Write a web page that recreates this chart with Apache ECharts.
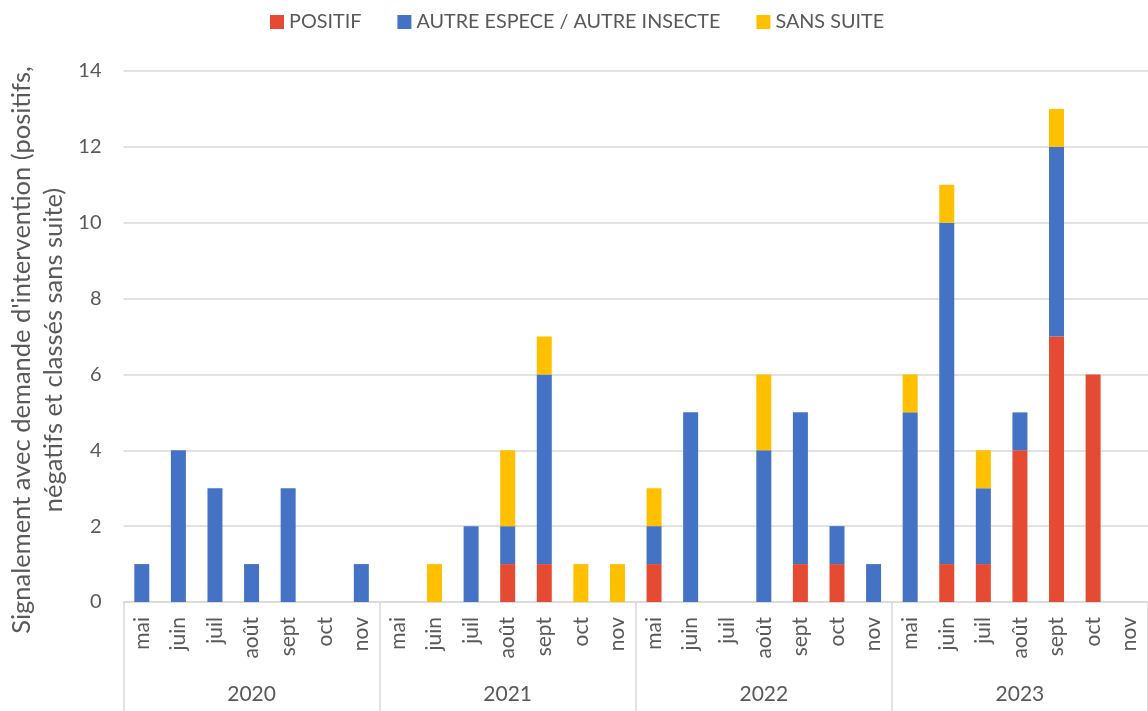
<!DOCTYPE html>
<html>
<head>
<meta charset="utf-8">
<script src="https://cdn.jsdelivr.net/npm/echarts@6/dist/echarts.min.js"></script>
<style>
* { margin: 0; padding: 0; }
html, body { width: 1148px; height: 711px; background: #fff; overflow: hidden; }
#chart { width: 1148px; height: 711px; }
</style>
</head>
<body>
<div id="chart"></div>
<script>
// catégories
const years = ["2020", "2021", "2022", "2023"];
const months = ["mai", "juin", "juil", "août", "sept", "oct", "nov"];

// valeurs (mai..nov pour chaque année)
const positif = [
  0, 0, 0, 0, 0, 0, 0,
  0, 0, 0, 1, 1, 0, 0,
  1, 0, 0, 0, 1, 1, 0,
  0, 1, 1, 4, 7, 6, 0
];
const autreEspece = [
  1, 4, 3, 1, 3, 0, 1,
  0, 0, 2, 1, 5, 0, 0,
  1, 5, 0, 4, 4, 1, 1,
  5, 9, 2, 1, 5, 0, 0
];
const sansSuite = [
  0, 0, 0, 0, 0, 0, 0,
  0, 1, 0, 2, 1, 1, 1,
  1, 0, 0, 2, 0, 0, 0,
  1, 1, 1, 0, 1, 0, 0
];

const yTicks = [0, 14, 2]; // min, max, interval

const monthCats = [];
years.forEach(y => months.forEach(m => monthCats.push(m)));

const textColor = "#595959";
const lineColor = "#D9D9D9";
const font = "Lato";

function barSeries(name, data, color) {
  return {
    name: name,
    type: "bar",
    stack: "total",
    barWidth: 15,
    data: data.map(v => (v === 0 ? null : v)),
    itemStyle: { color: color },
    emphasis: { disabled: true }
  };
}

const chart = echarts.init(document.getElementById("chart"));
chart.setOption({
  animation: false,
  textStyle: { fontFamily: font },
  legend: {
    top: 7,
    left: 265,
    itemWidth: 14,
    itemHeight: 14,
    itemGap: 36,
    icon: "rect",
    textStyle: { color: textColor, fontSize: 19.8, fontFamily: font }
  },
  grid: { left: 123.5, right: -3.5, top: 71, bottom: 109 },
  xAxis: [
    {
      type: "category",
      data: monthCats,
      axisLine: { lineStyle: { color: lineColor, width: 1.5 } },
      axisTick: {
        show: true,
        interval: (i) => i % 7 === 0,
        length: 110,
        lineStyle: { color: lineColor, width: 1.5 }
      },
      axisLabel: {
        rotate: 90,
        interval: 0,
        margin: 15,
        color: textColor,
        fontSize: 21,
        fontFamily: font
      }
    },
    {
      type: "category",
      data: years,
      position: "bottom",
      axisLine: { show: false },
      axisTick: { show: false },
      axisLabel: {
        margin: 82,
        color: textColor,
        fontSize: 21,
        fontFamily: font
      }
    }
  ],
  yAxis: {
    type: "value",
    min: yTicks[0],
    max: yTicks[1],
    interval: yTicks[2],
    axisLine: { show: false },
    axisTick: { show: false },
    splitLine: { lineStyle: { color: lineColor, width: 1.5 } },
    axisLabel: { color: textColor, fontSize: 20, margin: 22, fontFamily: font }
  },
  graphic: [
    {
      type: "text",
      x: 38,
      y: 350,
      rotation: Math.PI / 2,
      style: {
        text: "Signalement avec demande d'intervention (positifs,\nnégatifs et classés sans suite)",
        fill: textColor,
        fontSize: 25.5,
        fontFamily: font,
        lineHeight: 32,
        align: "center",
        verticalAlign: "middle"
      }
    }
  ],
  series: [
    barSeries("POSITIF", positif, "#E54B33"),
    barSeries("AUTRE ESPECE / AUTRE INSECTE", autreEspece, "#4472C4"),
    barSeries("SANS SUITE", sansSuite, "#FFC000")
  ]
});
</script>
</body>
</html>
